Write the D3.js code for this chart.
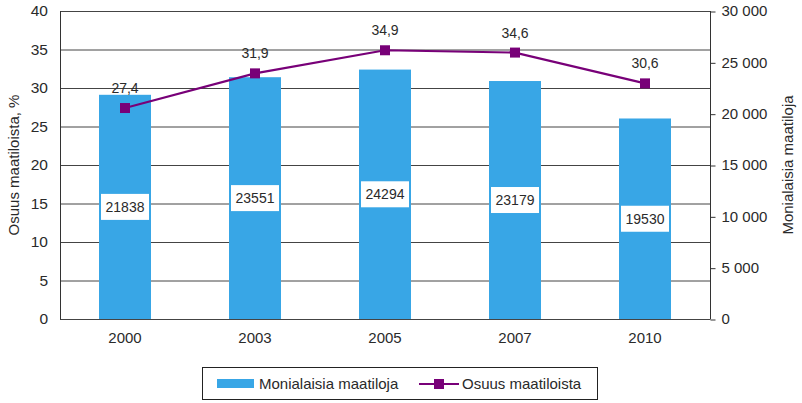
<!DOCTYPE html>
<html><head><meta charset="utf-8">
<script src="https://cdn.jsdelivr.net/npm/d3@7"></script>
<style>body{margin:0;background:#fff}svg{display:block;font-family:"Liberation Sans",Arial,sans-serif}</style>
</head><body><svg id="c" width="802" height="403"></svg>
<script>
const years = ["2000","2003","2005","2007","2010"];
const farms = [21838, 23551, 24294, 23179, 19530];
const share = [27.4, 31.9, 34.9, 34.6, 30.6];
const leftTicks = [0,5,10,15,20,25,30,35,40];
const rightTicks = [0,5000,10000,15000,20000,25000,30000];

const svg = d3.select("#c");
const L = 60, R = 710, T = 11, B = 319;
const x = d3.scaleBand().domain(years).range([L, R]);
const yL = d3.scaleLinear().domain([0,40]).range([B, T]);
const yR = d3.scaleLinear().domain([0,30000]).range([B, T]);
const txt = "#2a2a2a";
const ff = "Liberation Sans, Arial, sans-serif";

// gridlines
svg.append("g").selectAll("line").data(leftTicks).join("line")
  .attr("x1", L).attr("x2", R).attr("y1", d => yL(d)+0.5).attr("y2", d => yL(d)+0.5)
  .attr("stroke", "#444").attr("stroke-width", 1);

// bars
const bw = 52;
svg.append("g").selectAll("rect").data(years).join("rect")
  .attr("x", d => x(d) + x.bandwidth()/2 - bw/2).attr("width", bw)
  .attr("y", (d,i) => yR(farms[i])).attr("height", (d,i) => B - yR(farms[i]))
  .attr("fill", "#38a6e6");

// axes lines
svg.append("line").attr("x1", L+0.5).attr("x2", L+0.5).attr("y1", T).attr("y2", B+0.5).attr("stroke", "#333");
svg.append("line").attr("x1", R+0.5).attr("x2", R+0.5).attr("y1", T).attr("y2", B+0.5).attr("stroke", "#333");

// left axis labels
const gl = svg.append("g").attr("transform", `translate(${L},0)`)
  .call(d3.axisLeft(yL).tickValues(leftTicks).tickSize(0).tickPadding(12));
gl.select(".domain").remove();
gl.selectAll("text").attr("font-size", 15.5).attr("fill", txt).attr("font-family", ff);

// right axis
const gr = svg.append("g").attr("transform", `translate(${R+0.5},0)`)
  .call(d3.axisRight(yR).tickValues(rightTicks).tickSize(5).tickPadding(6).tickFormat(d => d3.format(",")(d).replace(/,/g, " ")));
gr.select(".domain").remove();
gr.selectAll("line").attr("stroke", "#333").attr("transform", "translate(0,0.5)");
gr.selectAll("text").attr("font-size", 15).attr("fill", txt).attr("font-family", ff);

// x axis labels
const gx = svg.append("g").attr("transform", `translate(0,${B})`)
  .call(d3.axisBottom(x).tickSize(0).tickPadding(13));
gx.select(".domain").remove();
gx.selectAll("text").attr("font-size", 15).attr("fill", txt).attr("font-family", ff);

// bar labels
const lab = svg.append("g").selectAll("g").data(years).join("g")
  .attr("transform", (d,i) => `translate(${x(d)+x.bandwidth()/2},${(yR(farms[i])+B)/2})`);
lab.append("rect").attr("x", -24).attr("y", -13).attr("width", 48).attr("height", 26).attr("fill", "#fff");
lab.append("text").attr("text-anchor", "middle").attr("dy", "0.35em").attr("font-size", 14).attr("fill", txt)
  .text((d,i) => farms[i]);

// line
const cx = d => x(d) + x.bandwidth()/2;
svg.append("path").datum(years)
  .attr("d", d3.line().x(cx).y((d,i) => yL(share[i])))
  .attr("fill", "none").attr("stroke", "#780078").attr("stroke-width", 2.2);
svg.append("g").selectAll("rect").data(years).join("rect")
  .attr("x", d => cx(d)-5).attr("y", (d,i) => yL(share[i])-5).attr("width", 10).attr("height", 10).attr("fill", "#780078");
svg.append("g").selectAll("text").data(years).join("text")
  .attr("x", cx).attr("y", (d,i) => yL(share[i]) - 15).attr("text-anchor", "middle")
  .attr("font-size", 14).attr("fill", txt).text((d,i) => String(share[i]).replace(".", ","));

// axis titles
svg.append("text").attr("transform", `translate(19,${(T+B)/2}) rotate(-90)`).attr("text-anchor", "middle")
  .attr("font-size", 15).attr("fill", txt).text("Osuus maatiloista, %");
svg.append("text").attr("transform", `translate(793,${(T+B)/2}) rotate(-90)`).attr("text-anchor", "middle")
  .attr("font-size", 15).attr("fill", txt).text("Monialaisia maatiloja");

// legend
const lg = svg.append("g");
lg.append("rect").attr("x", 202.5).attr("y", 367.5).attr("width", 395).attr("height", 32).attr("fill", "#fff").attr("stroke", "#222");
lg.append("rect").attr("x", 217).attr("y", 379).attr("width", 37).attr("height", 9).attr("fill", "#38a6e6");
lg.append("text").attr("x", 259).attr("y", 384).attr("dy", "0.35em").attr("font-size", 15).attr("fill", txt).text("Monialaisia maatiloja");
lg.append("line").attr("x1", 419).attr("x2", 459).attr("y1", 384).attr("y2", 384).attr("stroke", "#780078").attr("stroke-width", 2.2);
lg.append("rect").attr("x", 434).attr("y", 379).attr("width", 10).attr("height", 10).attr("fill", "#780078");
lg.append("text").attr("x", 462).attr("y", 384).attr("dy", "0.35em").attr("font-size", 15).attr("fill", txt).text("Osuus maatiloista");
</script></body></html>
